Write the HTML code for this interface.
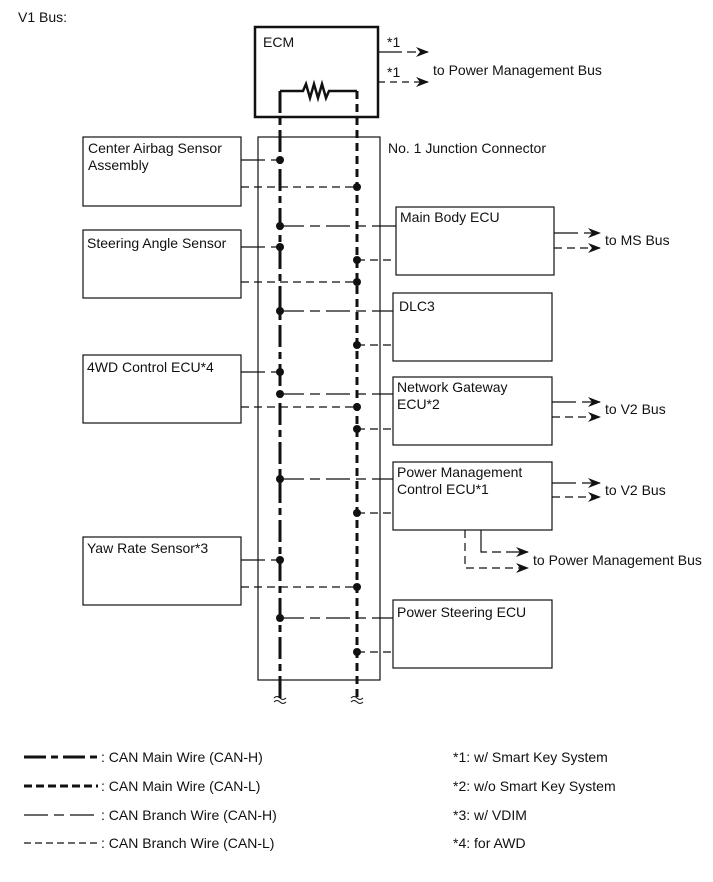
<!DOCTYPE html>
<html><head><meta charset="utf-8"><style>
html,body{margin:0;padding:0;background:#fff}
svg{display:block}
text{font-family:"Liberation Sans",Arial,sans-serif;font-size:14px;fill:#111}
</style></head><body>
<svg width="713" height="882" viewBox="0 0 713 882" xmlns="http://www.w3.org/2000/svg">
<defs>
<marker id="ar" markerWidth="13" markerHeight="10" refX="12" refY="5" orient="auto" markerUnits="userSpaceOnUse">
<path d="M0,0 L13,5 L0,10 L4,5 Z" fill="#111"/></marker>
</defs>
<g fill="none" stroke="#111">
<text x="18" y="22" stroke="none">V1 Bus:</text>
<rect x="255" y="27" width="123" height="90" stroke-width="2.5"/>
<text x="263" y="47" stroke="none">ECM</text>
<path d="M280,91 H303 L306,84 L310,98 L314,84 L318,98 L322,84 L326,98 L329,91 H357" stroke-width="2.5"/>
<line x1="378" y1="52" x2="428" y2="52" stroke-width="1.3" stroke-dasharray="24 5 9 5" marker-end="url(#ar)"/>
<line x1="378" y1="82" x2="428" y2="82" stroke-width="1.3" stroke-dasharray="7 5" marker-end="url(#ar)"/>
<text x="387" y="47" stroke="none" font-size="12">*1</text>
<text x="387" y="77" stroke="none" font-size="12">*1</text>
<text x="433" y="75" stroke="none">to Power Management Bus</text>

<rect x="258" y="137" width="122" height="543" stroke-width="1.2"/>
<text x="388" y="153" stroke="none">No. 1 Junction Connector</text>

<rect x="83" y="137" width="158" height="69" stroke-width="1.2"/>
<text x="88" y="153" stroke="none">Center Airbag Sensor</text>
<text x="88" y="170" stroke="none">Assembly</text>
<rect x="83" y="230" width="158" height="68" stroke-width="1.2"/>
<text x="87" y="248" stroke="none">Steering Angle Sensor</text>
<rect x="83" y="355" width="158" height="68" stroke-width="1.2"/>
<text x="87" y="372" stroke="none">4WD Control ECU*4</text>
<rect x="83" y="537" width="158" height="68" stroke-width="1.2"/>
<text x="87" y="553" stroke="none">Yaw Rate Sensor*3</text>

<rect x="396" y="207" width="158" height="68" stroke-width="1.2"/>
<text x="400" y="222" stroke="none">Main Body ECU</text>
<rect x="393" y="293" width="159" height="68" stroke-width="1.2"/>
<text x="399" y="311" stroke="none">DLC3</text>
<rect x="393" y="377" width="159" height="68" stroke-width="1.2"/>
<text x="397" y="392" stroke="none">Network Gateway</text>
<text x="397" y="409" stroke="none">ECU*2</text>
<rect x="393" y="462" width="159" height="68" stroke-width="1.2"/>
<text x="397" y="477" stroke="none">Power Management</text>
<text x="397" y="494" stroke="none">Control ECU*1</text>
<rect x="393" y="600" width="159" height="68" stroke-width="1.2"/>
<text x="397" y="617" stroke="none">Power Steering ECU</text>

<line x1="280" y1="91" x2="280" y2="702" stroke-width="3" stroke-dasharray="22 5 7 5"/>
<line x1="357" y1="91" x2="357" y2="702" stroke-width="3" stroke-dasharray="8 5"/>
<path d="M274,698 q3,-3 6,0 t6,0 M274,702 q3,-3 6,0 t6,0 M351,698 q3,-3 6,0 t6,0 M351,702 q3,-3 6,0 t6,0" stroke-width="1"/>

<g stroke-width="1.2" stroke-dasharray="24 6 10 6">
<line x1="241" y1="160" x2="280" y2="160"/>
<line x1="241" y1="247" x2="280" y2="247"/>
<line x1="241" y1="372" x2="280" y2="372"/>
<line x1="241" y1="560" x2="280" y2="560"/>
<line x1="280" y1="226" x2="396" y2="226"/>
<line x1="280" y1="311" x2="393" y2="311"/>
<line x1="280" y1="394" x2="393" y2="394"/>
<line x1="280" y1="479" x2="393" y2="479"/>
<line x1="280" y1="618" x2="393" y2="618"/>
<line x1="554" y1="233" x2="600" y2="233" marker-end="url(#ar)"/>
<line x1="552" y1="402" x2="600" y2="402" marker-end="url(#ar)"/>
<line x1="552" y1="483" x2="600" y2="483" marker-end="url(#ar)"/>
</g>
<path d="M481,530 V552 H528" stroke-width="1.2" stroke-dasharray="28 5 9 5" marker-end="url(#ar)"/>
<g stroke-width="1.2" stroke-dasharray="8 5">
<line x1="241" y1="187" x2="357" y2="187"/>
<line x1="241" y1="282" x2="357" y2="282"/>
<line x1="241" y1="407" x2="357" y2="407"/>
<line x1="241" y1="587" x2="357" y2="587"/>
<line x1="357" y1="260" x2="396" y2="260"/>
<line x1="357" y1="345" x2="393" y2="345"/>
<line x1="357" y1="429" x2="393" y2="429"/>
<line x1="357" y1="513" x2="393" y2="513"/>
<line x1="357" y1="652" x2="393" y2="652"/>
<line x1="554" y1="248" x2="600" y2="248" marker-end="url(#ar)"/>
<line x1="552" y1="417" x2="600" y2="417" marker-end="url(#ar)"/>
<line x1="552" y1="497" x2="600" y2="497" marker-end="url(#ar)"/>
</g>
<path d="M465,530 V568 H528" stroke-width="1.2" stroke-dasharray="8 5" marker-end="url(#ar)"/>
<text x="605" y="245" stroke="none">to MS Bus</text>
<text x="605" y="414" stroke="none">to V2 Bus</text>
<text x="605" y="495" stroke="none">to V2 Bus</text>
<text x="533" y="565" stroke="none">to Power Management Bus</text>

<g fill="#111" stroke="none">
<circle cx="280" cy="160" r="4"/><circle cx="280" cy="226" r="4"/><circle cx="280" cy="247" r="4"/>
<circle cx="280" cy="311" r="4"/><circle cx="280" cy="372" r="4"/><circle cx="280" cy="394" r="4"/>
<circle cx="280" cy="479" r="4"/><circle cx="280" cy="560" r="4"/><circle cx="280" cy="618" r="4"/>
<circle cx="357" cy="187" r="4"/><circle cx="357" cy="260" r="4"/><circle cx="357" cy="282" r="4"/>
<circle cx="357" cy="345" r="4"/><circle cx="357" cy="407" r="4"/><circle cx="357" cy="429" r="4"/>
<circle cx="357" cy="513" r="4"/><circle cx="357" cy="587" r="4"/><circle cx="357" cy="652" r="4"/>
</g>

<line x1="24" y1="757" x2="98" y2="757" stroke-width="3" stroke-dasharray="22 5 7 5"/>
<line x1="24" y1="786" x2="98" y2="786" stroke-width="3" stroke-dasharray="8 4"/>
<line x1="24" y1="815" x2="98" y2="815" stroke-width="1.2" stroke-dasharray="24 6 10 6"/>
<line x1="24" y1="843" x2="98" y2="843" stroke-width="1.2" stroke-dasharray="7 4"/>
<text x="101" y="762" stroke="none">: CAN Main Wire (CAN-H)</text>
<text x="101" y="791" stroke="none">: CAN Main Wire (CAN-L)</text>
<text x="101" y="820" stroke="none">: CAN Branch Wire (CAN-H)</text>
<text x="101" y="848" stroke="none">: CAN Branch Wire (CAN-L)</text>
<text x="453" y="762" stroke="none">*1: w/ Smart Key System</text>
<text x="453" y="791" stroke="none">*2: w/o Smart Key System</text>
<text x="453" y="820" stroke="none">*3: w/ VDIM</text>
<text x="453" y="848" stroke="none">*4: for AWD</text>
</g>
</svg>
</body></html>
